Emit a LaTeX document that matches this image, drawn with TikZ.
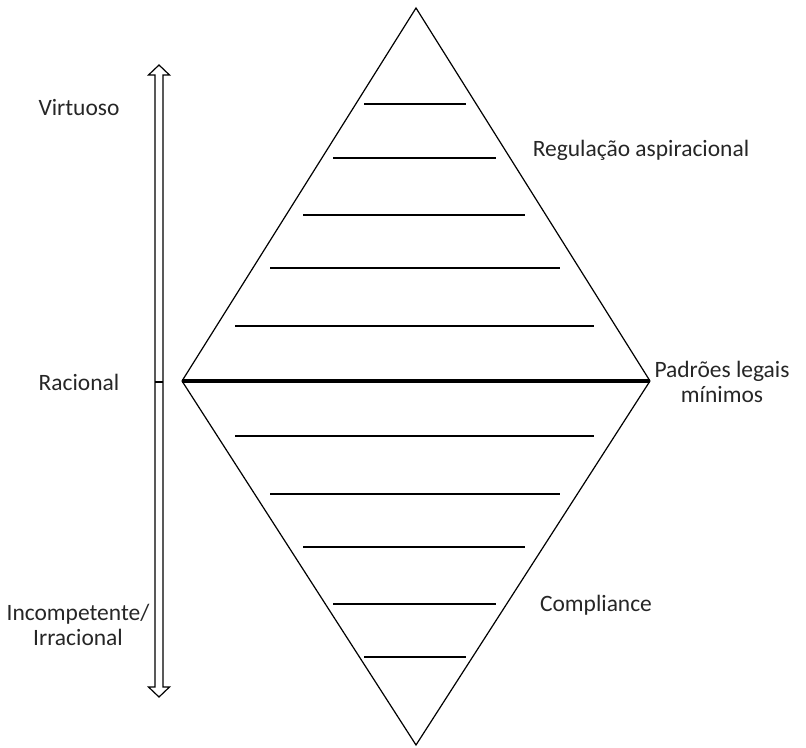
\documentclass[tikz,border=0pt]{standalone}
\usepackage{fontspec}
\setmainfont{Carlito}
\tikzset{
  rung/.style={draw, line width=0.9pt},
  label/.style={font=\fontsize{17.6}{18.5}\selectfont, text=black!85, align=center, inner sep=0pt}
}
\begin{document}
\begin{tikzpicture}[x=0.75pt, y=-0.75pt]
  \useasboundingbox (0,0) rectangle (806,748);
  % diamond corners
  \coordinate (top) at (416,8);
  \coordinate (left) at (182,381);
  \coordinate (right) at (650,381);
  \coordinate (bottom) at (416,745);
  \draw[line width=0.9pt] (left) -- (top) -- (right);
  \draw[line width=0.9pt] (left) -- (bottom) -- (right);
  \draw[line width=3.2pt] (left) -- (right);
  % rungs
  \foreach \y/\l/\r in {104/364/466, 158/333/496, 215/303/525, 268/270/560, 326/235/594,
                        436/235/594, 494/270/560, 547/303/525, 604/333/496, 657/364/466}{
    \draw[rung] (\l,\y) -- (\r,\y);
  }
  % scale arrow
  \coordinate (tipA) at (159,65);
  \coordinate (tipB) at (159,697);
  \draw[line width=0.9pt, line join=miter]
    (tipA) -- (169.5,75) -- (163,75) -- (163,687) -- (169.5,687) -- (tipB)
    -- (148.5,687) -- (155,687) -- (155,75) -- (148.5,75) -- cycle;
  \coordinate (tickL) at (155,382);
  \coordinate (tickR) at (163,382);
  \draw[line width=0.9pt] (tickL) -- (tickR);
  % texts
  \node[label] (virtuoso) at (79,108) {Virtuoso};
  \node[label] (racional) at (79,382) {Racional};
  \node[label] (incomp) at (78,625) {Incompetente/\\Irracional};
  \node[label] (aspira) at (641,150) {Regulação aspiracional};
  \node[label] (padroes) at (722,382) {Padrões legais\\mínimos};
  \node[label] (compl) at (596,605) {Compliance};
\end{tikzpicture}
\end{document}
